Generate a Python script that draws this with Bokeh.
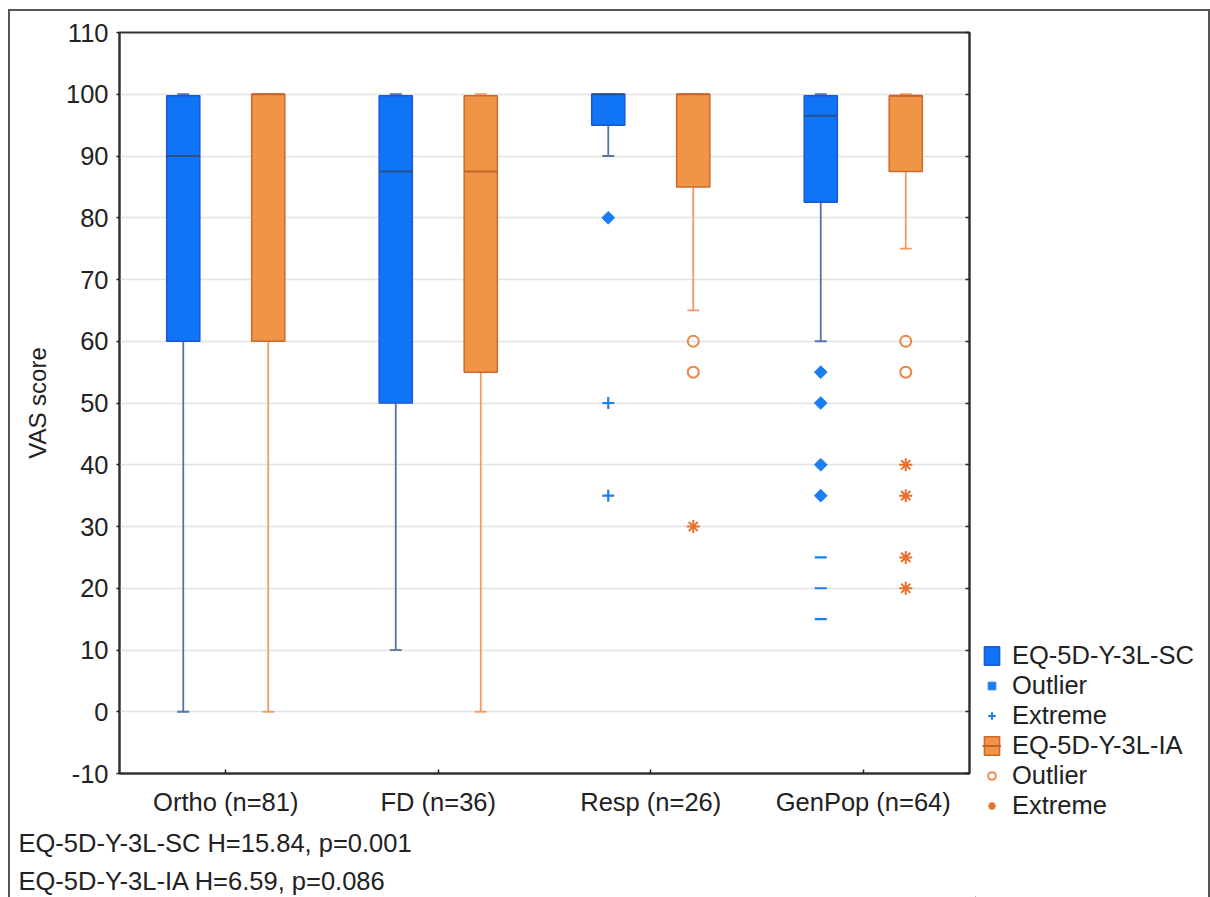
import numpy as np
from bokeh.plotting import figure
from bokeh.layouts import row
from bokeh.models import Range1d, FixedTicker, LinearAxis, Legend, LegendItem, Title
from bokeh.embed import file_html
from bokeh.resources import INLINE

# ---- data -------------------------------------------------------------
groups = ["Ortho (n=81)", "FD (n=36)", "Resp (n=26)", "GenPop (n=64)"]
y_ticks = list(range(-10, 111, 10))

# EQ-5D-Y-3L-SC: whisker low, Q1, median, Q3, whisker high
sc_low = [0, 10, 90, 60]
sc_q1 = [60, 50, 95, 82.5]
sc_med = [90, 87.5, 100, 96.5]
sc_q3 = [99.75, 99.75, 100, 99.75]
sc_high = [100, 100, 100, 100]

# EQ-5D-Y-3L-IA
ia_low = [0, 0, 65, 75]
ia_q1 = [60, 55, 85, 87.5]
ia_med = [100, 87.5, 100, 99.75]
ia_q3 = [100, 99.75, 100, 99.75]
ia_high = [100, 100, 100, 100]

sc_outlier_group = ["Resp (n=26)", "GenPop (n=64)", "GenPop (n=64)", "GenPop (n=64)", "GenPop (n=64)"]
sc_outlier_value = [80, 55, 50, 40, 35]
sc_extreme_group = ["Resp (n=26)", "Resp (n=26)"]
sc_extreme_value = [50, 35]
sc_extreme_low_group = ["GenPop (n=64)", "GenPop (n=64)", "GenPop (n=64)"]
sc_extreme_low_value = [25, 20, 15]

ia_outlier_group = ["Resp (n=26)", "Resp (n=26)", "GenPop (n=64)", "GenPop (n=64)"]
ia_outlier_value = [60, 55, 60, 55]
ia_extreme_group = ["Resp (n=26)", "GenPop (n=64)", "GenPop (n=64)", "GenPop (n=64)", "GenPop (n=64)"]
ia_extreme_value = [30, 40, 35, 25, 20]

legend_labels = ["EQ-5D-Y-3L-SC", "Outlier", "Extreme", "EQ-5D-Y-3L-IA", "Outlier", "Extreme"]
stats_lines = ["EQ-5D-Y-3L-SC H=15.84, p=0.001", "EQ-5D-Y-3L-IA H=6.59, p=0.086"]

# ---- styling ----------------------------------------------------------
FONT = "Liberation Sans"
TXT = "25.5px"
BLUE_FILL, BLUE_EDGE, BLUE_WHISK, BLUE_MED, BLUE_MARK = "#0f74f5", "#1f56d6", "#5575a8", "#2b4f88", "#1a7ef2"
ORANGE_FILL, ORANGE_EDGE, ORANGE_WHISK, ORANGE_MED, ORANGE_MARK = "#f09448", "#d0682a", "#f29a62", "#c9622a", "#ee8746"
STAR = "#e8702c"

SHIFT = 0.2
BOX_W = 0.156
CAP_W = 0.056

box_style_sc = dict(fill_color=BLUE_FILL, line_color=BLUE_EDGE, line_width=1.5)
box_style_ia = dict(fill_color=ORANGE_FILL, line_color=ORANGE_EDGE, line_width=1.5)
out_style_sc = dict(marker="square", angle=np.pi / 4, size=9, fill_color=BLUE_MARK, line_color=BLUE_MARK)
ext_style_sc = dict(marker="cross", size=12, line_color=BLUE_MARK, line_width=2.2)
out_style_ia = dict(marker="circle", size=11, fill_color=None, line_color=ORANGE_MARK, line_width=2)
ext_style_ia = dict(marker="asterisk", size=13, line_color=STAR, line_width=2)


def xpos(names, shift):
    return np.array([groups.index(n) + 0.5 + shift for n in names])


def box_x(shift):
    return np.array([i + 0.5 + shift for i in range(len(groups))])


p = figure(width=965, height=886, x_range=Range1d(0, 4), y_range=Range1d(-10, 110),
           output_backend="svg", toolbar_location=None,
           min_border_left=109, min_border_top=21, min_border_right=6, min_border_bottom=124)
p.frame_align = False

p.outline_line_color = "#333333"
p.outline_line_width = 2
p.background_fill_color = "white"
p.border_fill_color = "white"

p.xgrid.visible = False
p.ygrid.ticker = FixedTicker(ticks=y_ticks)
p.ygrid.grid_line_color = "#e2e2e2"
p.ygrid.grid_line_width = 1.5

# y axis
p.yaxis.ticker = FixedTicker(ticks=y_ticks)
p.yaxis.major_label_overrides = {t: str(t) for t in y_ticks}
p.yaxis.axis_label = "VAS score"
p.yaxis.axis_label_text_font = FONT
p.yaxis.axis_label_text_font_style = "normal"
p.yaxis.axis_label_text_font_size = "24px"
p.yaxis.axis_label_text_color = "#222222"
p.yaxis.axis_label_standoff = 12
p.yaxis.major_tick_out = 3
p.yaxis.major_tick_in = 0
p.yaxis.minor_tick_line_color = None
p.yaxis.major_label_standoff = 8

# x axis
p.xaxis.ticker = FixedTicker(ticks=[i + 0.5 for i in range(len(groups))])
p.xaxis.major_label_overrides = {i + 0.5: g for i, g in enumerate(groups)}
p.xaxis.major_tick_in = 4
p.xaxis.major_tick_out = 0
p.xaxis.minor_tick_line_color = None
p.xaxis.major_label_standoff = 14

for ax in (p.xaxis[0], p.yaxis[0]):
    ax.axis_line_color = "#333333"
    ax.axis_line_width = 2
    ax.major_tick_line_color = "#222222"
    ax.major_tick_line_width = 1.5
    ax.major_label_text_font = FONT
    ax.major_label_text_font_size = TXT
    ax.major_label_text_color = "#222222"

# right-hand axis: inward ticks only
right_ax = LinearAxis(ticker=FixedTicker(ticks=y_ticks), major_tick_in=4, major_tick_out=0,
                      minor_tick_line_color=None,
                      major_label_overrides={t: "" for t in y_ticks},
                      major_label_standoff=0,
                      axis_line_color="#333333", axis_line_width=2,
                      major_tick_line_color="#222222", major_tick_line_width=1.5)
p.add_layout(right_ax, "right")


def draw_boxes(fig, shift, low, q1, med, q3, high, style, whisk, medc):
    xs = box_x(shift)
    fig.segment(x0=xs, x1=xs, y0=low, y1=q1, line_color=whisk, line_width=1.8)
    fig.segment(x0=xs, x1=xs, y0=q3, y1=high, line_color=whisk, line_width=1.8)
    fig.segment(x0=xs - CAP_W / 2, x1=xs + CAP_W / 2, y0=low, y1=low, line_color=whisk, line_width=1.8)
    fig.segment(x0=xs - CAP_W / 2, x1=xs + CAP_W / 2, y0=high, y1=high, line_color=whisk, line_width=1.8)
    fig.vbar(x=xs, width=BOX_W, bottom=q1, top=q3, **style)
    fig.segment(x0=xs - BOX_W / 2, x1=xs + BOX_W / 2, y0=med, y1=med, line_color=medc, line_width=2)


draw_boxes(p, -SHIFT, sc_low, sc_q1, sc_med, sc_q3, sc_high, box_style_sc, BLUE_WHISK, BLUE_MED)
draw_boxes(p, SHIFT, ia_low, ia_q1, ia_med, ia_q3, ia_high, box_style_ia, ORANGE_WHISK, ORANGE_MED)

p.scatter(xpos(sc_outlier_group, -SHIFT), sc_outlier_value, **out_style_sc)
p.scatter(xpos(sc_extreme_group, -SHIFT), sc_extreme_value, **ext_style_sc)
p.scatter(xpos(sc_extreme_low_group, -SHIFT), sc_extreme_low_value, marker="dash",
          size=12, line_color=BLUE_MARK, line_width=2.2)
p.scatter(xpos(ia_outlier_group, SHIFT), ia_outlier_value, **out_style_ia)
p.scatter(xpos(ia_extreme_group, SHIFT), ia_extreme_value, **ext_style_ia)

for line, gap in zip(stats_lines, (16, 0)):
    p.add_layout(Title(text=line, align="left", offset=-101, text_font=FONT,
                       text_font_size=TXT, text_font_style="normal",
                       text_color="#222222", standoff=gap), "below")

# ---- legend panel to the right of the chart ---------------------------
# The panel's ranges sit away from the data, so its renderers stay off-screen
# and only serve as styled swatches for the legend entries.
leg = figure(width=233, height=886, x_range=Range1d(100, 101), y_range=Range1d(1000, 1001),
             output_backend="svg", toolbar_location=None,
             x_axis_location=None, y_axis_location=None,
             min_border_left=0, min_border_right=0, min_border_top=0, min_border_bottom=0)
leg.frame_align = False
leg.grid.visible = False
leg.outline_line_color = None
leg.background_fill_color = "white"
leg.border_fill_color = "white"

xs_sc, xs_ia = box_x(-SHIFT), box_x(SHIFT)
sw_sc_box = leg.vbar(x=xs_sc, width=BOX_W, bottom=sc_q1, top=sc_q3, **box_style_sc)
sw_sc_out = leg.scatter(xpos(sc_outlier_group, -SHIFT), sc_outlier_value, **out_style_sc)
sw_sc_ext = leg.scatter(xpos(sc_extreme_group, -SHIFT), sc_extreme_value, **ext_style_sc)
sw_ia_box = leg.vbar(x=xs_ia, width=BOX_W, bottom=ia_q1, top=ia_q3, **box_style_ia)
sw_ia_med = leg.segment(x0=xs_ia - BOX_W / 2, x1=xs_ia + BOX_W / 2, y0=ia_med, y1=ia_med,
                        line_color=ORANGE_MED, line_width=2)
sw_ia_out = leg.scatter(xpos(ia_outlier_group, SHIFT), ia_outlier_value, **out_style_ia)
sw_ia_ext = leg.scatter(xpos(ia_extreme_group, SHIFT), ia_extreme_value, **ext_style_ia)

swatches = [[sw_sc_box], [sw_sc_out], [sw_sc_ext], [sw_ia_box, sw_ia_med], [sw_ia_out], [sw_ia_ext]]
legend = Legend(items=[LegendItem(label=lab, renderers=rs) for lab, rs in zip(legend_labels, swatches)],
                location=(7, 77))
legend.border_line_color = None
legend.background_fill_alpha = 0
legend.padding = 0
legend.margin = 0
legend.spacing = 0
legend.glyph_width = 19
legend.glyph_height = 23
legend.label_height = 30
legend.label_standoff = 11
legend.label_text_font = FONT
legend.label_text_font_size = "25.5px"
legend.label_text_color = "#222222"
leg.add_layout(legend, "center")

page = row(p, leg, spacing=0,
           styles={"margin-left": "8px", "margin-top": "9px",
                   "border-left": "2px solid #555", "border-top": "2px solid #555",
                   "border-right": "2px solid #555"})

open("out.html", "w").write(file_html(page, INLINE))
